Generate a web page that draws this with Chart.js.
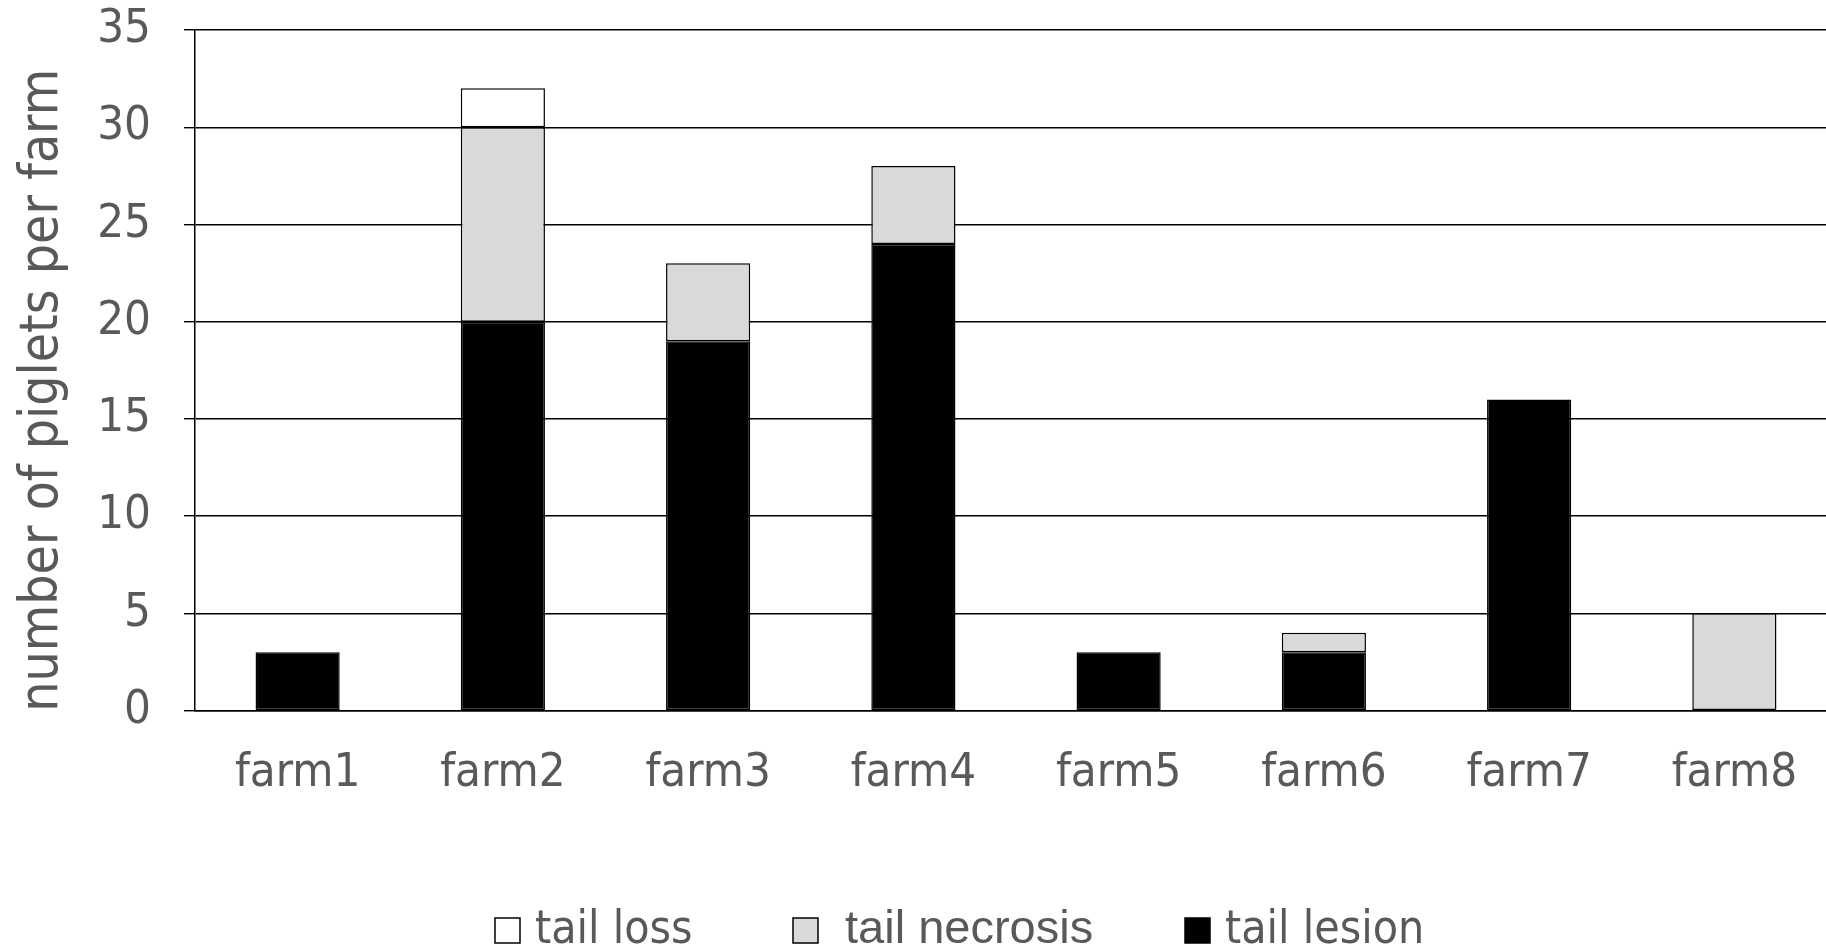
<!DOCTYPE html>
<html>
<head>
<meta charset="utf-8">
<script src="https://cdn.jsdelivr.net/npm/chart.js@4/dist/chart.umd.min.js"></script>
<style>
  html, body { margin: 0; padding: 0; background: #fff; overflow: hidden; }
  #wrap { width: 1840px; height: 950px; position: relative; }
</style>
</head>
<body>
<div id="wrap"><canvas id="chart"></canvas></div>
<script>
// Piglets per farm, broken down by tail damage type
const farms = ['farm1', 'farm2', 'farm3', 'farm4', 'farm5', 'farm6', 'farm7', 'farm8'];
const tailLesion   = [3, 20, 19, 24, 3, 3, 16, 0];
const tailNecrosis = [0, 10, 4, 4, 0, 1, 0, 5];
const tailLoss     = [0, 2, 0, 0, 0, 0, 0, 0];
const yTicksMajor = [0, 5, 10, 15, 20, 25, 30, 35];

const TEXT = '#595959';
const FONT = "'DejaVu Sans Condensed', 'DejaVu Sans', sans-serif";
const FONT_ALT = "'Liberation Sans', Arial, sans-serif";

// Legend drawn below the plot, items in reverse stacking order
const legendLayout = {
  boxX: [495, 793, 1185],
  textX: [535, 845, 1225],
  boxTop: 918,
  boxSize: 25,
  baseline: 943,
  fonts: [FONT, FONT_ALT, FONT],
  sizes: [46, 47, 46]
};

const bottomLegend = {
  id: 'bottomLegend',
  afterDraw(chart) {
    const ctx = chart.ctx;
    const items = chart.data.datasets.slice().reverse();
    ctx.save();
    items.forEach((ds, i) => {
      const L = legendLayout;
      ctx.fillStyle = ds.backgroundColor;
      ctx.fillRect(L.boxX[i], L.boxTop, L.boxSize, L.boxSize);
      ctx.lineWidth = 1.5;
      ctx.strokeStyle = '#000';
      ctx.strokeRect(L.boxX[i], L.boxTop, L.boxSize, L.boxSize);
      ctx.fillStyle = TEXT;
      ctx.font = L.sizes[i] + 'px ' + L.fonts[i];
      ctx.textBaseline = 'alphabetic';
      ctx.textAlign = 'left';
      ctx.fillText(ds.label, L.textX[i], L.baseline);
    });
    ctx.restore();
  }
};

const barStyle = { borderColor: '#000', borderWidth: 1.5, borderSkipped: false };

new Chart(document.getElementById('chart'), {
  type: 'bar',
  data: {
    labels: farms,
    datasets: [
      Object.assign({ label: 'tail lesion', data: tailLesion, backgroundColor: '#000000' }, barStyle),
      Object.assign({ label: 'tail necrosis', data: tailNecrosis, backgroundColor: '#d9d9d9' }, barStyle),
      Object.assign({ label: 'tail loss', data: tailLoss, backgroundColor: '#ffffff' }, barStyle)
    ]
  },
  plugins: [bottomLegend],
  options: {
    responsive: true,
    maintainAspectRatio: false,
    animation: false,
    devicePixelRatio: 1,
    layout: { padding: { left: 0, right: 3, top: 0, bottom: 113 } },
    datasets: { bar: { categoryPercentage: 1, barPercentage: 0.41 } },
    plugins: {
      legend: { display: false },
      tooltip: { enabled: false }
    },
    scales: {
      x: {
        stacked: true,
        grid: { display: false, drawTicks: false },
        border: { display: true, color: '#000', width: 1.5 },
        ticks: { color: TEXT, font: { family: FONT, size: 47 }, padding: 35 }
      },
      y: {
        stacked: true,
        min: 0,
        max: yTicksMajor[yTicksMajor.length - 1],
        afterFit(scale) { scale.width = 195; scale.paddingTop = 30; },
        ticks: {
          stepSize: 2.5,
          color: TEXT,
          font: { family: FONT, size: 47 },
          padding: 33,
          callback: v => (yTicksMajor.includes(v) ? String(v) : '')
        },
        grid: {
          color: c => (c.tick && yTicksMajor.includes(c.tick.value) ? '#000' : 'rgba(0,0,0,0)'),
          lineWidth: 1.4,
          tickColor: '#000',
          tickLength: 11,
          tickWidth: 1.4
        },
        border: { display: true, color: '#000', width: 1.5 },
        title: {
          display: true,
          text: 'number of piglets per farm  \u2009',
          color: TEXT,
          font: { family: FONT, size: 53 },
          padding: { top: 11, bottom: 0 }
        }
      }
    }
  }
});
</script>
</body>
</html>
